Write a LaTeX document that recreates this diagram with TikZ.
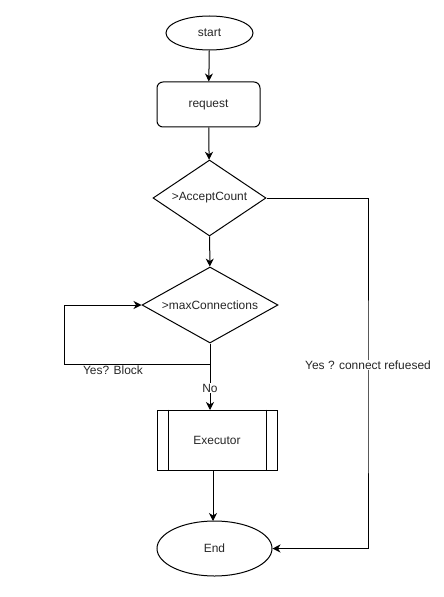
\documentclass[tikz,border=0pt]{standalone}
\usepackage{fontspec}
\setmainfont{Liberation Sans}
\usetikzlibrary{shapes.geometric,arrows.meta}
\begin{document}
\begin{tikzpicture}[x=1bp,y=-1bp,
  every node/.style={font=\fontsize{12}{14}\selectfont, text=black!85},
  box/.style={draw, line width=1bp, inner sep=0pt},
  oval/.style={box, ellipse},
  dia/.style={box, diamond, aspect=2},
  arr/.style={draw, line width=1bp, -{Stealth[length=8bp,width=8bp,inset=2.5bp]}},
  ln/.style={draw, line width=1bp},
  lbl/.style={fill=white, inner sep=1bp}]
\useasboundingbox (0,0) rectangle (444,597);
\node[oval, minimum width=87bp, minimum height=34bp] (start) at (209.5,33) {start};
\node[box, rounded corners=6bp, minimum width=103bp, minimum height=45bp] (req) at (208.5,104.5) {request};
\node[dia, minimum width=113bp, minimum height=76bp] (d1) at (209.5,198) {>AcceptCount};
\node[dia, minimum width=136bp, minimum height=76bp] (d2) at (210,305) {>maxConnections};
\node[box, minimum width=120bp, minimum height=60bp] (ex) at (217,440) {Executor};
\draw[ln] ([xshift=12bp]ex.north west) -- ([xshift=12bp]ex.south west);
\draw[ln] ([xshift=-11bp]ex.north east) -- ([xshift=-11bp]ex.south east);
\node[oval, minimum width=115bp, minimum height=55bp] (end) at (214.5,548.5) {End};
\coordinate (j) at (210,364);
\coordinate (lc) at (64,364);
\coordinate (rc) at (368,400);
\coordinate (exin) at (210,410);
\coordinate (exout) at (213,470);
\coordinate (endin) at (213,521);
\draw[arr] (start) -- (req);
\draw[arr] (req) -- (d1);
\draw[arr] (d1) -- (d2);
\draw[arr] (d2.south) -- (exin) node[pos=0.67, lbl] {No};
\draw[arr] (d2.south) -- (j) -- (lc) |- (d2.west);
\node (yb) at (113,370) {Yes? Block};
\draw[arr] (exout) -- (endin);
\draw[arr] (d1.east) -| (rc) |- (end.east);
\node[lbl] (yr) at (368,365) {Yes ? connect refuesed};
\end{tikzpicture}
\end{document}
